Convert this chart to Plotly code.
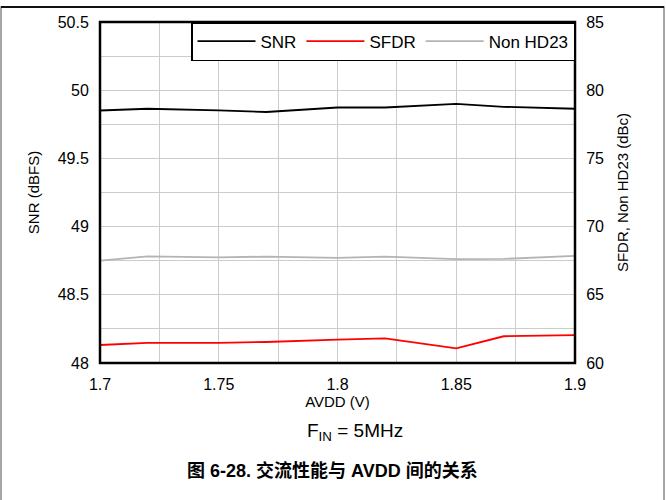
import plotly.graph_objects as go

avdd = [1.7, 1.72, 1.75, 1.77, 1.8, 1.82, 1.85, 1.87, 1.9]
snr = [49.851, 49.864, 49.852, 49.840, 49.873, 49.873, 49.900, 49.878, 49.864]
sfdr = [61.32, 61.47, 61.48, 61.54, 61.71, 61.81, 61.08, 61.96, 62.05]
non_hd23 = [67.51, 67.81, 67.75, 67.80, 67.70, 67.80, 67.61, 67.63, 67.86]

FONT = "Liberation Sans, Arial, sans-serif"

fig = go.Figure()
fig.add_trace(go.Scatter(x=avdd, y=snr, name="SNR", mode="lines",
                         line=dict(color="black", width=1.8), yaxis="y"))
fig.add_trace(go.Scatter(x=avdd, y=sfdr, name="SFDR", mode="lines",
                         line=dict(color="#ff0000", width=1.8), yaxis="y2"))
fig.add_trace(go.Scatter(x=avdd, y=non_hd23, name="Non HD23", mode="lines",
                         line=dict(color="#b4b4b4", width=1.8), yaxis="y2"))

grid = "#cccccc"
clear = "rgba(0,0,0,0)"
top_y = (363 - 7) / 341
fig.update_layout(
    width=666, height=500,
    margin=dict(l=100, r=91, t=22, b=137, autoexpand=False),
    paper_bgcolor="white", plot_bgcolor="white",
    font=dict(family=FONT, size=16, color="black"),
    showlegend=True,
    legend=dict(orientation="h", x=1, xanchor="right", y=1, yanchor="top",
                bordercolor="black", borderwidth=1.5, bgcolor="white",
                font=dict(size=17), tracegroupgap=0, itemwidth=58),
    xaxis=dict(range=[1.7, 1.9], dtick=0.05, tick0=1.7, showgrid=True,
               gridcolor=grid, gridwidth=1, zeroline=False, automargin=False,
               ticks="outside", ticklen=7, tickcolor=clear,
               minor=dict(dtick=0.025, showgrid=True, gridcolor=grid, gridwidth=1),
               title=dict(text="AVDD (V)", font=dict(size=15), standoff=0),
               tickfont=dict(size=16)),
    yaxis=dict(range=[48, 50.5], dtick=0.5, showgrid=True, gridcolor=grid,
               zeroline=False, automargin=False,
               ticks="outside", ticklen=7, tickcolor=clear,
               minor=dict(dtick=0.25, showgrid=True, gridcolor=grid),
               title=dict(text="SNR (dBFS)", font=dict(size=15), standoff=14),
               tickfont=dict(size=16)),
    yaxis2=dict(range=[60, 85], dtick=5, overlaying="y", side="right",
                showgrid=False, zeroline=False, automargin=False,
                ticks="outside", ticklen=7, tickcolor=clear,
                title=dict(text="SFDR, Non HD23 (dBc)", font=dict(size=15), standoff=14),
                tickfont=dict(size=16)),
    shapes=[
        dict(type="rect", xref="paper", yref="paper", x0=0, x1=1, y0=0, y1=1,
             line=dict(color="black", width=2.5), layer="above"),
        dict(type="rect", xref="paper", yref="paper", x0=-0.2084, x1=1.1874,
             y0=top_y, y1=-0.45, line=dict(color="#888888", width=1.5), layer="above"),
        dict(type="line", xref="paper", yref="paper", x0=-0.2084, x1=1.1874,
             y0=top_y, y1=top_y, line=dict(color="#111111", width=2), layer="above"),
    ],
    annotations=[
        dict(text="F<sub>IN</sub> = 5MHz", xref="paper", yref="paper",
             x=(355 - 100) / 475, y=(363 - 432) / 341, xanchor="center", yanchor="middle",
             showarrow=False, font=dict(size=19, family=FONT)),
        dict(text="<b>图 6-28. 交流性能与 AVDD 间的关系</b>", xref="paper", yref="paper",
             x=(332 - 100) / 475, y=(363 - 470) / 341, xanchor="center", yanchor="middle",
             showarrow=False,
             font=dict(size=18, family="Liberation Sans, Arial, Noto Sans CJK SC, sans-serif")),
    ],
)

fig.write_html("out.html", config={"displayModeBar": False},
               post_script="document.body.style.margin='0';document.body.style.overflow='hidden';")
